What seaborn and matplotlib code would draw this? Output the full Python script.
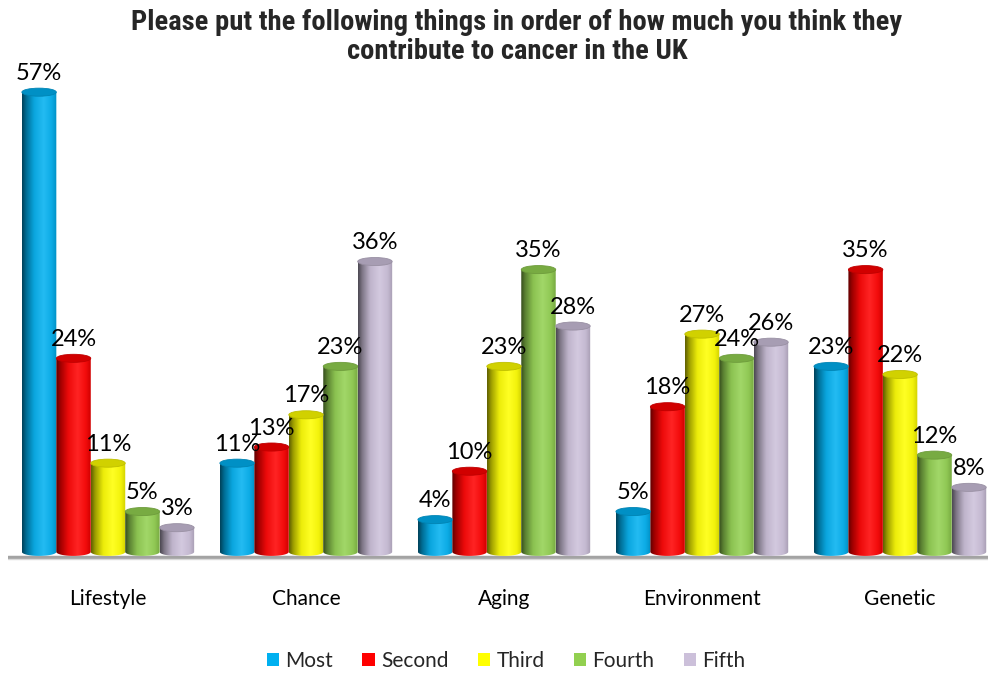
import numpy as np
import pandas as pd
import matplotlib
matplotlib.use("Agg")
import matplotlib.pyplot as plt
from matplotlib import font_manager
from matplotlib.patches import Ellipse, Patch
from matplotlib.path import Path
import matplotlib.colors as mcolors
import seaborn as sns

# Survey results: share of respondents placing each factor at each rank
factors = ["Lifestyle", "Chance", "Aging", "Environment", "Genetic"]
ranks = ["Most", "Second", "Third", "Fourth", "Fifth"]
most = [57, 11, 4, 5, 23]
second = [24, 13, 10, 18, 35]
third = [11, 17, 23, 27, 22]
fourth = [5, 23, 35, 24, 12]
fifth = [3, 36, 28, 26, 8]
rank_colors = ["#00B0F0", "#FF0000", "#FFFF00", "#92D050", "#CCC0DA"]
title = ("Please put the following things in order of how much you think they\n"
         "contribute to cancer in the UK")

sns.set_theme(style="white")
available = {f.name for f in font_manager.fontManager.ttflist}
body_font = "Lato" if "Lato" in available else "DejaVu Sans"
title_font = next((f for f in ["Liberation Sans Narrow", "Roboto Condensed",
                               "DejaVu Sans Condensed", "Liberation Sans"]
                   if f in available), "DejaVu Sans")
plt.rcParams["font.family"] = [body_font, "DejaVu Sans"]

df = pd.DataFrame({
    "factor": np.repeat(factors, len(ranks)),
    "rank": ranks * len(factors),
    "pct": np.array([most, second, third, fourth, fifth]).T.ravel(),
})

fig = plt.figure(figsize=(9.88, 6.73), dpi=100)
ax = fig.add_axes([8 / 988, 0.162, 980 / 988, 0.737])

sns.barplot(data=df, x="factor", y="pct", hue="rank", order=factors,
            hue_order=ranks, palette=rank_colors, width=0.87, gap=0,
            saturation=1, legend=False, ax=ax)

ax.set_xlim(-0.505, 4.444)
ax.set_ylim(-1.5, 60)

# shading profile across a cylinder (left dark -> highlight -> slight falloff)
t_pts = [0.0, 0.12, 0.35, 0.62, 0.85, 1.0]
m_pts = [0.38, 0.62, 0.92, 1.0, 0.95, 0.82]
w_pts = [0.0, 0.0, 0.04, 0.14, 0.05, 0.0]
tt = np.linspace(0, 1, 64)
mult = np.interp(tt, t_pts, m_pts)
white = np.interp(tt, t_pts, w_pts)

cap_h = 1.0  # ellipse height in data units
for bar in list(ax.patches):
    x0 = bar.get_x()
    w = bar.get_width()
    h = bar.get_height()
    if not np.isfinite(h) or h <= 0:
        continue
    x1 = x0 + w
    base = np.array(mcolors.to_rgb(bar.get_facecolor()))
    grad = base[None, :] * mult[:, None]
    grad = grad + white[:, None] * (1 - grad)
    grad = np.clip(grad, 0, 1)
    bar.set_facecolor("none")
    bar.set_edgecolor("none")

    # body outline with a rounded bottom
    ang = np.linspace(0, np.pi, 40)
    bx = (x0 + x1) / 2 + (w / 2) * np.cos(ang)
    by = -(cap_h / 2) * np.sin(ang)
    verts = np.vstack([[[x0, 0], [x0, h], [x1, h], [x1, 0]],
                       np.column_stack([bx, by]), [[x0, 0]]])
    body = Path(verts, closed=True)
    im = ax.imshow(grad[None, :, :], extent=[x0, x1, -cap_h, h],
                   aspect="auto", interpolation="bilinear", zorder=2)
    im.set_clip_path(body, ax.transData)

    top = Ellipse(((x0 + x1) / 2, h), w, cap_h,
                  facecolor=np.clip(base * 0.82, 0, 1),
                  edgecolor=np.clip(base * 0.75, 0, 1), lw=0.6, zorder=3)
    ax.add_patch(top)

    ax.annotate(f"{h:.0f}%", xy=((x0 + x1) / 2, h), xytext=(0, 6),
                textcoords="offset points", ha="center", va="bottom",
                fontsize=17, color="black", zorder=5)

# floor line
ax.axhline(-0.62, color="#a3a3a3", lw=2.5, zorder=1)
ax.axhline(-0.9, color="#d9d9d9", lw=1, zorder=1)

sns.despine(ax=ax, left=True, bottom=True, top=True, right=True)
ax.set_xlabel("")
ax.set_ylabel("")
ax.set_yticks([])
ax.tick_params(axis="x", length=0, pad=18, labelsize=15, labelcolor="black")

fig.text(517 / 988, 0.945, title, ha="center", va="center",
         fontsize=20.5, fontweight="bold", family=title_font, linespacing=1.1)

handles = [Patch(facecolor=c, edgecolor="none", label=r)
           for r, c in zip(ranks, rank_colors)]
fig.legend(handles=handles, loc="center", bbox_to_anchor=(506 / 988, 0.018),
           ncol=5, frameon=False, fontsize=15, handlelength=0.6,
           handleheight=0.6, handletextpad=0.3, columnspacing=1.4)

fig.savefig("out.png", dpi=100)
